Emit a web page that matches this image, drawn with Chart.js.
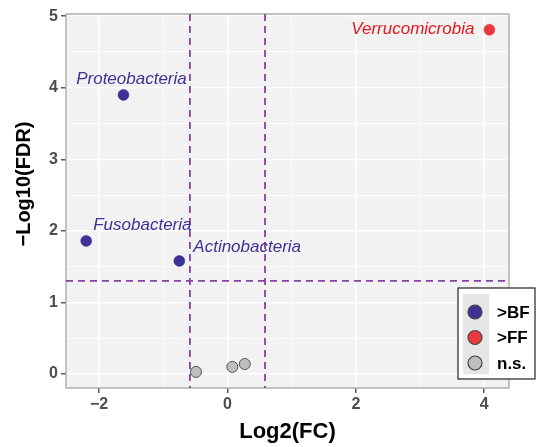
<!DOCTYPE html>
<html lang="en">
<head>
  <meta charset="UTF-8">
  <title>Volcano plot</title>
  <script src="https://cdn.jsdelivr.net/npm/chart.js"></script>
  <style>
    html, body { margin: 0; padding: 0; background: #fff; }
    #wrap { width: 537px; height: 447px; }
  </style>
</head>
<body>
  <div id="wrap"><canvas id="volcano" width="537" height="447"></canvas></div>

  <script>
    // data
    const bfNames = ['Proteobacteria', 'Fusobacteria', 'Actinobacteria'];
    const bfLogFC = [-1.62, -2.20, -0.75];
    const bfFDR = [3.90, 1.86, 1.58];

    const ffNames = ['Verrucomicrobia'];
    const ffLogFC = [4.08];
    const ffFDR = [4.81];

    const nsLogFC = [-0.49, 0.075, 0.27];
    const nsFDR = [0.03, 0.10, 0.14];

    const groupLabels = ['>BF', '>FF', 'n.s.'];

    // cutoffs: |log2FC| > log2(1.5), FDR < 0.05
    const fcCut = Math.log2(1.5);
    const fdrCut = -Math.log10(0.05);

    const xTicks = [-2, 0, 2, 4];
    const yTicks = [0, 1, 2, 3, 4, 5];

    const blue = '#3F3195';
    const red = '#E8393E';
    const grey = '#BEBEBE';
    const cutColor = '#8A3FA6';

    const toPoints = (xs, ys) => xs.map((x, i) => ({ x: x, y: ys[i] }));

    // where each label sits relative to its point (px)
    const labelPlace = {
      Proteobacteria: { dx: 8, dy: -16, align: 'center' },
      Fusobacteria: { dx: 7, dy: -16, align: 'left' },
      Actinobacteria: { dx: 14, dy: -14, align: 'left' },
      Verrucomicrobia: { dx: -15, dy: 0, align: 'right' }
    };

    const volcanoDecor = {
      id: 'volcanoDecor',
      beforeDraw(chart) {
        const { ctx, chartArea: a } = chart;
        ctx.save();
        ctx.fillStyle = '#F2F2F2';
        ctx.fillRect(a.left, a.top, a.right - a.left, a.bottom - a.top);
        ctx.restore();
      },
      beforeDatasetsDraw(chart) {
        const { ctx, chartArea: a, scales } = chart;
        ctx.save();
        // panel border
        ctx.strokeStyle = '#9E9E9E';
        ctx.lineWidth = 1.2;
        ctx.strokeRect(a.left, a.top, a.right - a.left, a.bottom - a.top);
        // cutoff lines
        ctx.strokeStyle = cutColor;
        ctx.lineWidth = 1.8;
        ctx.setLineDash([7, 5]);
        [-fcCut, fcCut].forEach(v => {
          const px = scales.x.getPixelForValue(v);
          ctx.beginPath();
          ctx.moveTo(px, a.top);
          ctx.lineTo(px, a.bottom);
          ctx.stroke();
        });
        const py = scales.y.getPixelForValue(fdrCut);
        ctx.beginPath();
        ctx.moveTo(a.left, py);
        ctx.lineTo(a.right, py);
        ctx.stroke();
        ctx.restore();
      },
      afterDatasetsDraw(chart) {
        const { ctx } = chart;
        ctx.save();
        ctx.font = 'italic 17px "Liberation Sans", Arial, sans-serif';
        ctx.textBaseline = 'middle';
        [[0, bfNames, blue], [1, ffNames, '#E8161D']].forEach(([di, names, col]) => {
          const meta = chart.getDatasetMeta(di);
          meta.data.forEach((pt, i) => {
            const p = labelPlace[names[i]];
            ctx.fillStyle = col;
            ctx.textAlign = p.align;
            ctx.fillText(names[i], pt.x + p.dx, pt.y + p.dy);
          });
        });

        // y axis title
        ctx.save();
        ctx.translate(24, 184);
        ctx.rotate(-Math.PI / 2);
        ctx.font = 'bold 20px "Liberation Sans", Arial, sans-serif';
        ctx.fillStyle = '#000';
        ctx.textAlign = 'center';
        ctx.fillText('\u2212Log10(FDR)', 0, 0);
        ctx.restore();

        // legend box
        ctx.fillStyle = '#fff';
        ctx.fillRect(458, 288, 77, 91);
        ctx.strokeStyle = '#222';
        ctx.lineWidth = 1.2;
        ctx.strokeRect(458, 288, 77, 91);
        ctx.fillStyle = '#E6E6E6';
        ctx.fillRect(463, 294, 26, 80);
        const fills = [blue, red, grey];
        groupLabels.forEach((lab, i) => {
          const cy = 312 + i * 25.5;
          ctx.beginPath();
          ctx.arc(475, cy, 7, 0, Math.PI * 2);
          ctx.fillStyle = fills[i];
          ctx.fill();
          ctx.strokeStyle = '#444';
          ctx.lineWidth = 1.2;
          ctx.stroke();
          ctx.fillStyle = '#000';
          ctx.textAlign = 'left';
          ctx.font = 'bold 17px "Liberation Sans", Arial, sans-serif';
          ctx.fillText(lab, 497, cy + 1);
        });
        ctx.restore();
      }
    };

    const isMajor = (v, list) => list.includes(Math.round(v * 100) / 100);

    const ctx = document.getElementById('volcano').getContext('2d');
    new Chart(ctx, {
      type: 'scatter',
      data: {
        datasets: [
          {
            label: groupLabels[0],
            data: toPoints(bfLogFC, bfFDR),
            backgroundColor: blue,
            borderColor: blue,
            borderWidth: 0.5,
            pointRadius: 5.5
          },
          {
            label: groupLabels[1],
            data: toPoints(ffLogFC, ffFDR),
            backgroundColor: red,
            borderColor: red,
            borderWidth: 0.5,
            pointRadius: 5.5
          },
          {
            label: groupLabels[2],
            data: toPoints(nsLogFC, nsFDR),
            backgroundColor: grey,
            borderColor: '#555',
            borderWidth: 1,
            pointRadius: 5.5
          }
        ]
      },
      options: {
        responsive: false,
        animation: false,
        layout: { padding: { top: 14, right: 28, left: 0, bottom: 0 } },
        plugins: {
          legend: { display: false },
          tooltip: { enabled: false }
        },
        scales: {
          x: {
            type: 'linear',
            min: -2.515,
            max: 4.385,
            afterFit(scale) { scale.height = 59; },
            border: { display: false },
            grid: {
              color: '#FFFFFF',
              lineWidth: c => isMajor(c.tick.value, xTicks) ? 1.6 : 0.8,
              tickColor: c => isMajor(c.tick.value, xTicks) ? '#333' : 'rgba(0,0,0,0)',
              tickLength: 5,
              tickWidth: 1.2
            },
            ticks: {
              stepSize: 1,
              includeBounds: false,
              maxRotation: 0,
              autoSkip: false,
              padding: 2,
              color: '#4D4D4D',
              font: { family: '"Liberation Sans", Arial, sans-serif', size: 16, weight: 'bold' },
              callback: v => isMajor(v, xTicks) ? (v < 0 ? '\u2212' + Math.abs(v) : String(v)) : ''
            },
            title: {
              display: true,
              text: 'Log2(FC)',
              color: '#000',
              padding: { top: 0, bottom: 2 },
              font: { family: '"Liberation Sans", Arial, sans-serif', size: 22, weight: 'bold' }
            }
          },
          y: {
            type: 'linear',
            min: -0.195,
            max: 5.03,
            afterFit(scale) { scale.width = 66; },
            border: { display: false },
            grid: {
              color: '#FFFFFF',
              lineWidth: c => isMajor(c.tick.value, yTicks) ? 1.6 : 0.8,
              tickColor: c => isMajor(c.tick.value, yTicks) ? '#333' : 'rgba(0,0,0,0)',
              tickLength: 5,
              tickWidth: 1.2
            },
            ticks: {
              stepSize: 0.5,
              includeBounds: false,
              autoSkip: false,
              padding: 3,
              color: '#4D4D4D',
              font: { family: '"Liberation Sans", Arial, sans-serif', size: 16, weight: 'bold' },
              callback: v => isMajor(v, yTicks) ? String(v) : ''
            }
          }
        }
      },
      plugins: [volcanoDecor]
    });
  </script>
</body>
</html>
